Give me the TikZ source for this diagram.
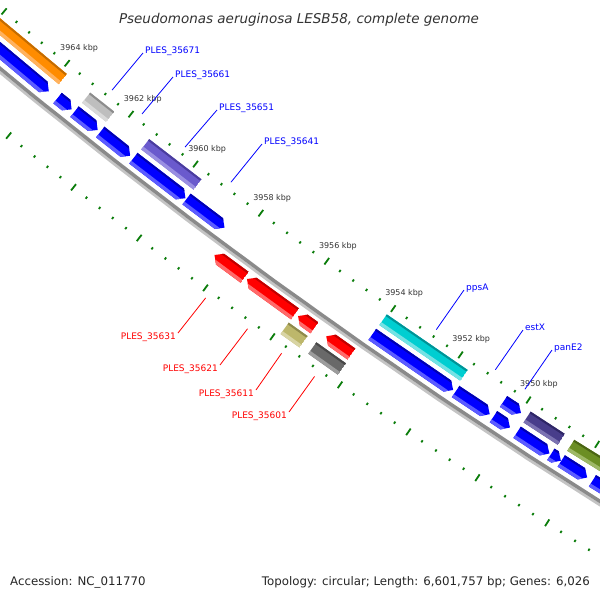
\documentclass[tikz,border=0pt]{standalone}
\usepackage{fontspec}
\setmainfont{DejaVu Sans}
\definecolor{cBm}{HTML}{0000FF}\definecolor{cBd}{HTML}{0000B0}\definecolor{cBl}{HTML}{5C5CFF}
\definecolor{cRm}{HTML}{FF0000}\definecolor{cRd}{HTML}{C00000}\definecolor{cRl}{HTML}{FF6A6A}
\definecolor{cOm}{HTML}{FF8C00}\definecolor{cOd}{HTML}{C46C00}\definecolor{cOl}{HTML}{FFB25E}
\definecolor{cSm}{HTML}{BEBEBE}\definecolor{cSd}{HTML}{8C8C8C}\definecolor{cSl}{HTML}{D9D9D9}
\definecolor{cPm}{HTML}{6A5ACD}\definecolor{cPd}{HTML}{4A3C9E}\definecolor{cPl}{HTML}{9A8FE2}
\definecolor{cCm}{HTML}{00CED1}\definecolor{cCd}{HTML}{009396}\definecolor{cCl}{HTML}{74E2E4}
\definecolor{cDm}{HTML}{483D8B}\definecolor{cDd}{HTML}{2E2666}\definecolor{cDl}{HTML}{7B72B2}
\definecolor{cVm}{HTML}{6B8E23}\definecolor{cVd}{HTML}{4A6414}\definecolor{cVl}{HTML}{9EB866}
\definecolor{cKm}{HTML}{BDB76B}\definecolor{cKd}{HTML}{8E894C}\definecolor{cKl}{HTML}{D8D4A3}
\definecolor{cGm}{HTML}{696969}\definecolor{cGd}{HTML}{484848}\definecolor{cGl}{HTML}{9C9C9C}
\definecolor{bbdark}{HTML}{8A8A8A}\definecolor{bblight}{HTML}{C4C4C4}
\definecolor{tkgreen}{HTML}{0B7D0B}
\definecolor{txtgray}{HTML}{333333}
\newcommand\gshade[5]{%
  \fill[#5m] ({kb(#1)}:{#3-2}) -- ({kb(#2)}:{#3-2}) -- ({kb(#2)}:{#4+2}) -- ({kb(#1)}:{#4+2}) -- cycle;
  \fill[#5d] ({kb(#1)}:{#3-2}) -- ({kb(#2)}:{#3-2}) -- ({kb(#2)}:{#3+2}) -- ({kb(#1)}:{#3+2}) -- cycle;
  \fill[#5l] ({kb(#1)}:{#4-3.5}) -- ({kb(#2)}:{#4-3.5}) -- ({kb(#2)}:{#4+2}) -- ({kb(#1)}:{#4+2}) -- cycle;}
\newcommand\boxgene[5]{%
  \begin{scope}
  \clip ({kb(#1)}:#3) -- ({kb(#2)}:#3) -- ({kb(#2)}:#4) -- ({kb(#1)}:#4) -- cycle;
  \gshade{#1}{#2}{#3}{#4}{#5}
  \end{scope}}
\newcommand\arrowgene[6]{%
  \pgfmathsetmacro\gHB{#2+#6*0.17}%
  \pgfmathsetmacro\gRM{(#3+#4)/2}%
  \begin{scope}
  \clip ({kb(#1)}:#3) -- ({kb(\gHB)}:#3) -- ({kb(#2)}:\gRM) -- ({kb(\gHB)}:#4) -- ({kb(#1)}:#4) -- cycle;
  \gshade{#1}{#2}{#3}{#4}{#5}
  \end{scope}}
\begin{document}
\begin{tikzpicture}[x=1pt,y=-1pt,
  tk/.style={line width=1.8pt, draw=tkgreen},
  lbl/.style={inner sep=0pt, font=\fontsize{9}{10}\selectfont},
  ticklbl/.style={inner sep=0pt, font=\fontsize{8}{9}\selectfont, text=txtgray},
  bl/.style={draw=cBm, line width=0.8pt},
  rl/.style={draw=cRm, line width=0.8pt}]
\pgfmathdeclarefunction{kb}{1}{\pgfmathparse{128.96+0.404*(#1-3964)}}
\useasboundingbox (0,0) rectangle (600,600);
\fill[white] (0,0) rectangle (600,600);
\begin{scope}
\clip (0,0) rectangle (600,600);
\begin{scope}[shift={(3707,-4438)}]
% ticks
\foreach \i in {0,...,60}{
  \pgfmathsetmacro\tkk{3944+0.4*\i}
  \pgfmathtruncatemacro\tkm{mod(\i,5)}
  \ifnum\tkm=0
    \draw[tk] ({kb(\tkk)}:5785) -- ({kb(\tkk)}:5793);
    \draw[tk] ({kb(\tkk)}:5878) -- ({kb(\tkk)}:5886);
  \else
    \draw[tk] ({kb(\tkk)}:5788) -- ({kb(\tkk)}:5790.5);
    \draw[tk] ({kb(\tkk)}:5881) -- ({kb(\tkk)}:5883.5);
  \fi
}
\foreach \k in {3950,3952,...,3964}
  \node[ticklbl] (L\k) at ({kb(\k)}:5770) {\k\ kbp};
% backbone
\draw[line width=2.7pt, bblight] plot[domain=120.5:131, samples=60] (\x:5838.6);
\draw[line width=3.5pt, bbdark] plot[domain=120.5:131, samples=60] (\x:5835.5);
% row A
\boxgene{3963.84}{3968.5}{5797.5}{5810.5}{cO}
\boxgene{3962.36}{3963.11}{5797.5}{5810.5}{cS}
\boxgene{3959.66}{3961.27}{5797.5}{5810.5}{cP}
\boxgene{3951.65}{3954.05}{5797.5}{5810.5}{cC}
\arrowgene{3950.49}{3949.98}{5797.5}{5810.5}{cB}{1}
\boxgene{3948.80}{3949.80}{5797.5}{5810.5}{cD}
\boxgene{3944}{3948.53}{5797.5}{5810.5}{cV}
% row B
\arrowgene{3968.5}{3963.92}{5815.5}{5829}{cB}{1}
\arrowgene{3963.65}{3963.21}{5815.5}{5829}{cB}{1}
\arrowgene{3963.12}{3962.40}{5815.5}{5829}{cB}{1}
\arrowgene{3962.32}{3961.39}{5815.5}{5829}{cB}{1}
\arrowgene{3961.29}{3959.69}{5815.5}{5829}{cB}{1}
\arrowgene{3959.66}{3958.50}{5815.5}{5829}{cB}{1}
\arrowgene{3954.06}{3951.67}{5815.5}{5829}{cB}{1}
\arrowgene{3951.60}{3950.60}{5815.5}{5829}{cB}{1}
\arrowgene{3950.49}{3950.01}{5815.5}{5829}{cB}{1}
\arrowgene{3949.80}{3948.86}{5815.5}{5829}{cB}{1}
\arrowgene{3948.82}{3948.53}{5815.5}{5829}{cB}{1}
\arrowgene{3948.52}{3947.77}{5815.5}{5829}{cB}{1}
\arrowgene{3947.62}{3944}{5815.5}{5829}{cB}{1}
% row C (reverse, red)
\arrowgene{3957.39}{3958.30}{5843.5}{5857}{cR}{-1}
\arrowgene{3955.88}{3957.32}{5843.5}{5857}{cR}{-1}
\arrowgene{3955.30}{3955.79}{5843.5}{5857}{cR}{-1}
\arrowgene{3954.20}{3954.95}{5843.5}{5857}{cR}{-1}
% row D
\boxgene{3955.32}{3955.88}{5861}{5875}{cK}
\boxgene{3954.18}{3955.06}{5861}{5875}{cG}
% label anchor points on features
\coordinate (fa1) at ({kb(3962.73)}:5782);
\coordinate (fa2) at ({kb(3961.79)}:5782);
\coordinate (fa3) at ({kb(3960.46)}:5782);
\coordinate (fa4) at ({kb(3959.04)}:5782);
\coordinate (fa5) at ({kb(3952.84)}:5782);
\coordinate (fa6) at ({kb(3951.09)}:5782);
\coordinate (fa7) at ({kb(3950.22)}:5782);
\coordinate (fr1) at ({kb(3957.85)}:5890);
\coordinate (fr2) at ({kb(3956.60)}:5890);
\coordinate (fr3) at ({kb(3955.59)}:5890);
\coordinate (fr4) at ({kb(3954.62)}:5890);
\end{scope}
% blue labels
\coordinate (ea1) at (143,53);
\coordinate (ea2) at (173,77);
\coordinate (ea3) at (217,110);
\coordinate (ea4) at (262,144);
\coordinate (ea5) at (464,290);
\coordinate (ea6) at (523,330);
\coordinate (ea7) at (552,350);
\node[lbl, text=cBm, anchor=base west] (ta1) at ([xshift=2pt]ea1) {PLES\_35671};
\node[lbl, text=cBm, anchor=base west] (ta2) at ([xshift=2pt]ea2) {PLES\_35661};
\node[lbl, text=cBm, anchor=base west] (ta3) at ([xshift=2pt]ea3) {PLES\_35651};
\node[lbl, text=cBm, anchor=base west] (ta4) at ([xshift=2pt]ea4) {PLES\_35641};
\node[lbl, text=cBm, anchor=base west] (ta5) at ([xshift=2pt]ea5) {ppsA};
\node[lbl, text=cBm, anchor=base west] (ta6) at ([xshift=2pt]ea6) {estX};
\node[lbl, text=cBm, anchor=base west] (ta7) at ([xshift=2pt]ea7) {panE2};
\foreach \j in {1,...,7} \draw[bl] (fa\j) -- (ea\j);
% red labels
\coordinate (er1) at (178,333);
\coordinate (er2) at (220,365);
\coordinate (er3) at (256,390);
\coordinate (er4) at (289,412);
\node[lbl, text=cRm, anchor=base east] (tr1) at ([xshift=-2pt,yshift=-6pt]er1) {PLES\_35631};
\node[lbl, text=cRm, anchor=base east] (tr2) at ([xshift=-2pt,yshift=-6pt]er2) {PLES\_35621};
\node[lbl, text=cRm, anchor=base east] (tr3) at ([xshift=-2pt,yshift=-6pt]er3) {PLES\_35611};
\node[lbl, text=cRm, anchor=base east] (tr4) at ([xshift=-2pt,yshift=-6pt]er4) {PLES\_35601};
\foreach \j in {1,...,4} \draw[rl] (fr\j) -- (er\j);
\end{scope}
% title and footer
\node[inner sep=0pt, anchor=base, text=txtgray, font=\fontsize{13.5}{15}\selectfont\itshape] (title) at (299,23) {Pseudomonas aeruginosa LESB58, complete genome};
\node[inner sep=0pt, anchor=base west, text=black!85, font=\fontsize{11.8}{13}\selectfont] (acc) at (10,585) {Accession: NC\_011770};
\node[inner sep=0pt, anchor=base east, text=black!85, font=\fontsize{11.8}{13}\selectfont] (topo) at (590,585) {Topology: circular; Length: 6,601,757 bp; Genes: 6,026};
\end{tikzpicture}
\end{document}
